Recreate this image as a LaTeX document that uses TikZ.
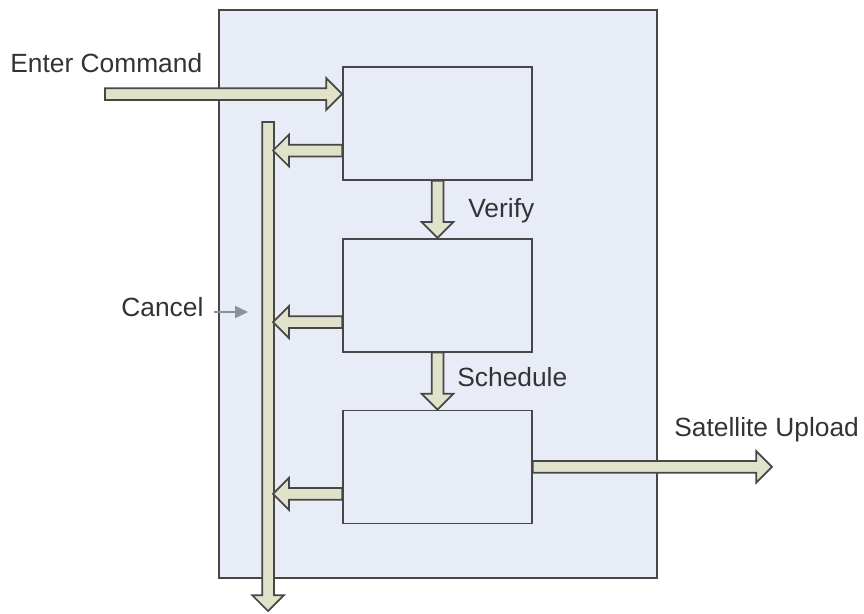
\documentclass[tikz,border=0pt]{standalone}
\usepackage{fontspec}
\setmainfont{Liberation Sans}
\usetikzlibrary{
  positioning,
  calc,
  shapes.arrows,
  arrows.meta
}
\definecolor{panel}{HTML}{E8ECF6}
\definecolor{pipe}{HTML}{E0E2CA}
\definecolor{edge}{HTML}{474747}
\definecolor{hint}{HTML}{8C9098}

\tikzset{
  stage/.style={draw=edge, line width=0.035cm, fill=panel, inner sep=0pt,
    minimum width=3.78cm, minimum height=2.26cm},
  lbl/.style={inner sep=0pt, font=\fontsize{15}{18}\selectfont, text=black!80},
  pipearrow/.style={single arrow, draw=edge, fill=pipe, line width=0.035cm,
    inner sep=0pt, inner ysep=0.1cm, single arrow head extend=0.2cm, outer sep=0pt},
  fat/.style={to path={let \p1=(\tikztostart), \p2=(\tikztotarget),
    \n1={veclen(\x2-\x1,\y2-\y1)}, \n2={atan2(\y2-\y1,\x2-\x1)} in
    node[pipearrow, minimum height=\n1, rotate=\n2, anchor=tail] at (\p1) {}}},
  hintarrow/.style={draw=hint, line width=0.04cm, -{Triangle[length=0.26cm, width=0.24cm]}}
}

\begin{document}
\begin{tikzpicture}[x=0.02cm, y=-0.02cm]
  \useasboundingbox (0,0) rectangle (864,613);

  % Outer panel
  \node[stage, minimum width=8.76cm, minimum height=11.36cm] (sys) at (438,294) {};

  % Stages
  \node[stage] (check) at (437.5,123.5) {};
  \node[stage, below=1.14cm of check] (plan) {};
  \node[stage, below=1.14cm of plan] (send) {};

  % Free ends
  \coordinate (cmdIn) at (105,94);
  \coordinate (railTop) at (268,122);
  \coordinate (railEnd) at (268,611);
  \coordinate (railSide) at (273,0);
  \coordinate (upTip) at (772,0);
  \coordinate (cancelTip) at (248,312);

  % Cancel rail
  \path (railTop) to[fat] (railEnd);
  \foreach \s in {check, plan, send} {
    \path ([yshift=-0.54cm]\s.west) to[fat] ([yshift=-0.54cm]\s.west -| railSide);
  }

  % Main flow
  \path (cmdIn) to[fat] (cmdIn -| check.west);
  \path (check.south) to[fat] (plan.north);
  \path (plan.south) to[fat] (send.north);
  \path (send.east) to[fat] (send.east -| upTip);

  % Labels
  \node[lbl, anchor=base west] (cmdText) at (10,72) {Enter Command};
  \node[lbl, anchor=base west] (verify) at (468,217) {Verify};
  \node[lbl, anchor=base west] (schedule) at (457,386) {Schedule};
  \node[lbl, anchor=base west] (cancel) at (121,316) {Cancel};
  \node[lbl, anchor=base west] (upload) at (674,436) {Satellite Upload};

  \draw[hintarrow] ([xshift=0.2cm]cancel.east |- cancelTip) -- (cancelTip);
\end{tikzpicture}
\end{document}
